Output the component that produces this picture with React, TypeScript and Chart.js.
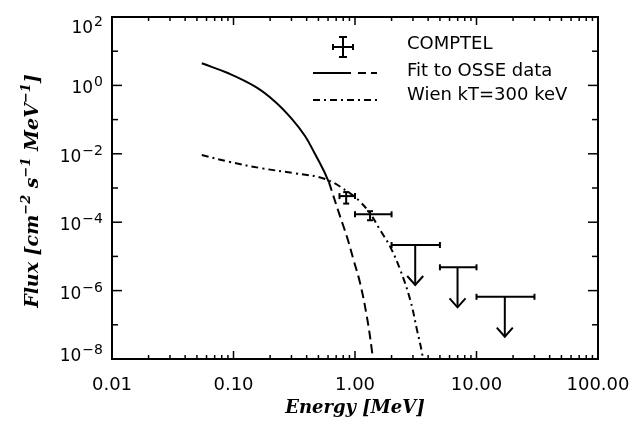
import React, { useEffect, useRef } from 'react';
import { Chart, registerables } from 'chart.js';

Chart.register(...registerables);

// Fit to OSSE data: solid part (measured range)
const fitSolidEnergy = [0.0548, 0.0908, 0.151, 0.22, 0.302, 0.389, 0.47, 0.551, 0.61];
const fitSolidFlux = [4.43, 2.26, 0.916, 0.334, 0.105, 0.0325, 0.0097, 0.0033, 0.00148];
// Fit to OSSE data: dashed extrapolation
const fitDashEnergy = [0.61, 0.755, 0.857, 0.973, 1.104, 1.253, 1.377, 1.42];
const fitDashFlux = [0.00148, 1.45e-4, 3.8e-5, 7.9e-6, 1.6e-6, 1.7e-7, 1.8e-8, 6e-9];
// Wien kT = 300 keV
const wienEnergy = [0.0548, 0.0908, 0.171, 0.321, 0.569, 0.912, 1.1, 1.33, 1.61, 1.95, 2.36, 2.85, 3.24, 3.56, 3.7];
const wienFlux = [9.2e-3, 5.9e-3, 3.77e-3, 2.69e-3, 1.83e-3, 7.0e-4, 4.0e-4, 1.8e-4, 5.9e-5, 1.9e-5, 4.0e-6, 5.3e-7, 7.0e-8, 1.5e-8, 5e-9];

// COMPTEL detections
const comptelEnergy = [0.846, 1.33];
const comptelEnergyLow = [0.745, 1.0];
const comptelEnergyHigh = [1.0, 2.0];
const comptelFlux = [5.8e-4, 1.7e-4];
const comptelFluxLow = [3.5e-4, 1.14e-4];
const comptelFluxHigh = [7.6e-4, 2.1e-4];

// COMPTEL upper limits
const limitEnergy = [3.13, 6.98, 17.1];
const limitEnergyLow = [2.0, 5.0, 10.0];
const limitEnergyHigh = [5.0, 10.0, 30.0];
const limitFlux = [2.15e-5, 4.8e-6, 6.6e-7];
const limitArrowTip = [1.46e-6, 3.25e-7, 4.5e-8];

// Axes
const xTickValues = [0.01, 0.1, 1, 10, 100];
const xTickLabels = ['0.01', '0.10', '1.00', '10.00', '100.00'];
const yTickExponents = [2, 0, -2, -4, -6, -8];

const legendLabels = ['COMPTEL', 'Fit to OSSE data', 'Wien kT=300 keV'];

const TICK_FONT = '"DejaVu Sans", sans-serif';
const TITLE_FONT = '"DejaVu Serif", serif';

function seg(ctx: CanvasRenderingContext2D, x1: number, y1: number, x2: number, y2: number) {
  ctx.beginPath();
  ctx.moveTo(x1, y1);
  ctx.lineTo(x2, y2);
  ctx.stroke();
}

type Part = { t: string; sup?: boolean };

function richWidth(ctx: CanvasRenderingContext2D, parts: Part[], size: number, supSize: number) {
  let w = 0;
  for (const p of parts) {
    ctx.font = `bold italic ${p.sup ? supSize : size}px ${TITLE_FONT}`;
    w += ctx.measureText(p.t).width;
  }
  return w;
}

function drawRich(ctx: CanvasRenderingContext2D, parts: Part[], x: number, y: number, size: number, supSize: number, raise: number) {
  let cx = x;
  for (const p of parts) {
    ctx.font = `bold italic ${p.sup ? supSize : size}px ${TITLE_FONT}`;
    ctx.fillText(p.t, cx, p.sup ? y - raise : y);
    cx += ctx.measureText(p.t).width;
  }
}

const overlayPlugin = {
  id: 'overlay',
  afterDraw(chart: any) {
    const ctx: CanvasRenderingContext2D = chart.ctx;
    const xs = chart.scales.x;
    const ys = chart.scales.y;
    const { left, right, top, bottom } = chart.chartArea;
    ctx.save();
    ctx.strokeStyle = '#000';
    ctx.fillStyle = '#000';
    ctx.lineCap = 'butt';

    // frame
    ctx.lineWidth = 2;
    ctx.strokeRect(left, top, right - left, bottom - top);

    // x ticks (inward, top and bottom)
    ctx.lineWidth = 1.5;
    const xmin = Math.round(Math.log10(xs.min));
    const xmax = Math.round(Math.log10(xs.max));
    for (let d = xmin; d < xmax; d++) {
      for (let m = 1; m < 10; m++) {
        const px = xs.getPixelForValue(m * Math.pow(10, d));
        const len = m === 1 ? 8 : 4;
        seg(ctx, px, bottom, px, bottom - len);
        seg(ctx, px, top, px, top + len);
      }
    }
    // y ticks (inward, left and right)
    const ymin = Math.round(Math.log10(ys.min));
    const ymax = Math.round(Math.log10(ys.max));
    for (let e = ymin; e <= ymax; e++) {
      const py = ys.getPixelForValue(Math.pow(10, e));
      const len = e % 2 === 0 ? 10 : 6;
      seg(ctx, left, py, left + len, py);
      seg(ctx, right, py, right - len, py);
    }

    // x tick labels
    ctx.font = `18px ${TICK_FONT}`;
    ctx.textAlign = 'center';
    ctx.textBaseline = 'alphabetic';
    xTickValues.forEach((v, i) => {
      ctx.fillText(xTickLabels[i], xs.getPixelForValue(v), bottom + 31);
    });

    // y tick labels: 10^n
    ctx.textAlign = 'left';
    yTickExponents.forEach((e) => {
      const py = ys.getPixelForValue(Math.pow(10, e));
      const c = Math.min(Math.max(py + 1.5, top + 9), bottom - 5);
      const sup = e < 0 ? '\u2212' + Math.abs(e) : String(e);
      ctx.font = `14px ${TICK_FONT}`;
      const sw = ctx.measureText(sup).width;
      ctx.font = `17px ${TICK_FONT}`;
      const bw = ctx.measureText('10').width;
      const x0 = left - 9 - sw - bw - 1;
      ctx.fillText('10', x0, c + 6.5);
      ctx.font = `14px ${TICK_FONT}`;
      ctx.fillText(sup, x0 + bw + 1, c - 0.5);
    });

    // axis titles
    const xTitle: Part[] = [{ t: 'Energy [MeV]' }];
    const xw = richWidth(ctx, xTitle, 18, 13);
    drawRich(ctx, xTitle, (left + right) / 2 - xw / 2, 413, 18, 13, 7);

    const yTitle: Part[] = [
      { t: 'Flux [cm' }, { t: '\u22122', sup: true },
      { t: ' s' }, { t: '\u22121', sup: true },
      { t: ' MeV' }, { t: '\u22121', sup: true }, { t: ']' },
    ];
    const yw = richWidth(ctx, yTitle, 19, 13);
    ctx.save();
    ctx.translate(38, 191);
    ctx.rotate(-Math.PI / 2);
    drawRich(ctx, yTitle, -yw / 2, 0, 19, 13, 8);
    ctx.restore();

    // COMPTEL data points with error bars
    ctx.lineWidth = 2;
    const cap = 3;
    comptelEnergy.forEach((e, i) => {
      const x = xs.getPixelForValue(e);
      const y = ys.getPixelForValue(comptelFlux[i]);
      const x1 = xs.getPixelForValue(comptelEnergyLow[i]);
      const x2 = xs.getPixelForValue(comptelEnergyHigh[i]);
      const y1 = ys.getPixelForValue(comptelFluxHigh[i]);
      const y2 = ys.getPixelForValue(comptelFluxLow[i]);
      seg(ctx, x1, y, x2, y);
      seg(ctx, x1, y - cap, x1, y + cap);
      seg(ctx, x2, y - cap, x2, y + cap);
      seg(ctx, x, y1, x, y2);
      seg(ctx, x - cap, y1, x + cap, y1);
      seg(ctx, x - cap, y2, x + cap, y2);
    });

    // upper limits
    limitEnergy.forEach((e, i) => {
      const xa = xs.getPixelForValue(e);
      const y = ys.getPixelForValue(limitFlux[i]);
      const x1 = xs.getPixelForValue(limitEnergyLow[i]);
      const x2 = xs.getPixelForValue(limitEnergyHigh[i]);
      const yt = ys.getPixelForValue(limitArrowTip[i]);
      seg(ctx, x1, y, x2, y);
      seg(ctx, x1, y - cap, x1, y + cap);
      seg(ctx, x2, y - cap, x2, y + cap);
      seg(ctx, xa, y, xa, yt);
      ctx.beginPath();
      ctx.moveTo(xa - 8, yt - 9);
      ctx.lineTo(xa, yt);
      ctx.lineTo(xa + 8, yt - 9);
      ctx.stroke();
    });

    // legend
    ctx.lineWidth = 2;
    // COMPTEL symbol
    seg(ctx, 333, 47, 353, 47);
    seg(ctx, 333, 44, 333, 50);
    seg(ctx, 353, 44, 353, 50);
    seg(ctx, 343, 37, 343, 57);
    seg(ctx, 339, 37, 347, 37);
    seg(ctx, 339, 57, 347, 57);
    // Fit symbol: solid + dashes
    seg(ctx, 313, 73, 351, 73);
    seg(ctx, 358, 73, 366, 73);
    seg(ctx, 371, 73, 377, 73);
    // Wien symbol: dash-dot
    ctx.setLineDash([7, 4, 2, 4]);
    seg(ctx, 313, 100, 377, 100);
    ctx.setLineDash([]);

    ctx.font = `18px ${TICK_FONT}`;
    ctx.textAlign = 'left';
    ctx.fillText(legendLabels[0], 407, 48.5);
    ctx.fillText(legendLabels[1], 407, 76);
    ctx.fillText(legendLabels[2], 407, 100);

    ctx.restore();
  },
};

const toPoints = (xs: number[], ys: number[]) => xs.map((x, i) => ({ x, y: ys[i] }));

export default function App() {
  const ref = useRef<HTMLCanvasElement>(null);
  useEffect(() => {
    const canvas = ref.current;
    if (!canvas) return;
    const chart = new Chart(canvas, {
      type: 'line',
      data: {
        datasets: [
          {
            label: 'Fit to OSSE data',
            data: toPoints(fitSolidEnergy, fitSolidFlux),
            borderColor: '#000',
            borderWidth: 2,
            pointRadius: 0,
            fill: false,
            tension: 0.4,
          },
          {
            label: 'Fit to OSSE data (extrapolated)',
            data: toPoints(fitDashEnergy, fitDashFlux),
            borderColor: '#000',
            borderWidth: 2,
            borderDash: [9, 5],
            pointRadius: 0,
            fill: false,
            tension: 0.4,
          },
          {
            label: 'Wien kT=300 keV',
            data: toPoints(wienEnergy, wienFlux),
            borderColor: '#000',
            borderWidth: 2,
            borderDash: [7, 4, 2, 4],
            pointRadius: 0,
            fill: false,
            tension: 0.4,
          },
        ],
      },
      options: {
        animation: false,
        responsive: false,
        devicePixelRatio: 1,
        layout: { padding: { left: 112, top: 17, right: 37, bottom: 62 } },
        scales: {
          x: { type: 'logarithmic', min: 0.01, max: 100, display: false },
          y: { type: 'logarithmic', min: 1e-8, max: 100, display: false },
        },
        plugins: {
          legend: { display: false },
          tooltip: { enabled: false },
        },
      },
      plugins: [overlayPlugin],
    } as any);
    return () => chart.destroy();
  }, []);
  return (
    <div style={{ position: 'fixed', left: 0, top: 0, width: 635, height: 421, background: '#fff' }}>
      <canvas ref={ref} width={635} height={421} style={{ display: 'block', width: 635, height: 421 }} />
    </div>
  );
}
